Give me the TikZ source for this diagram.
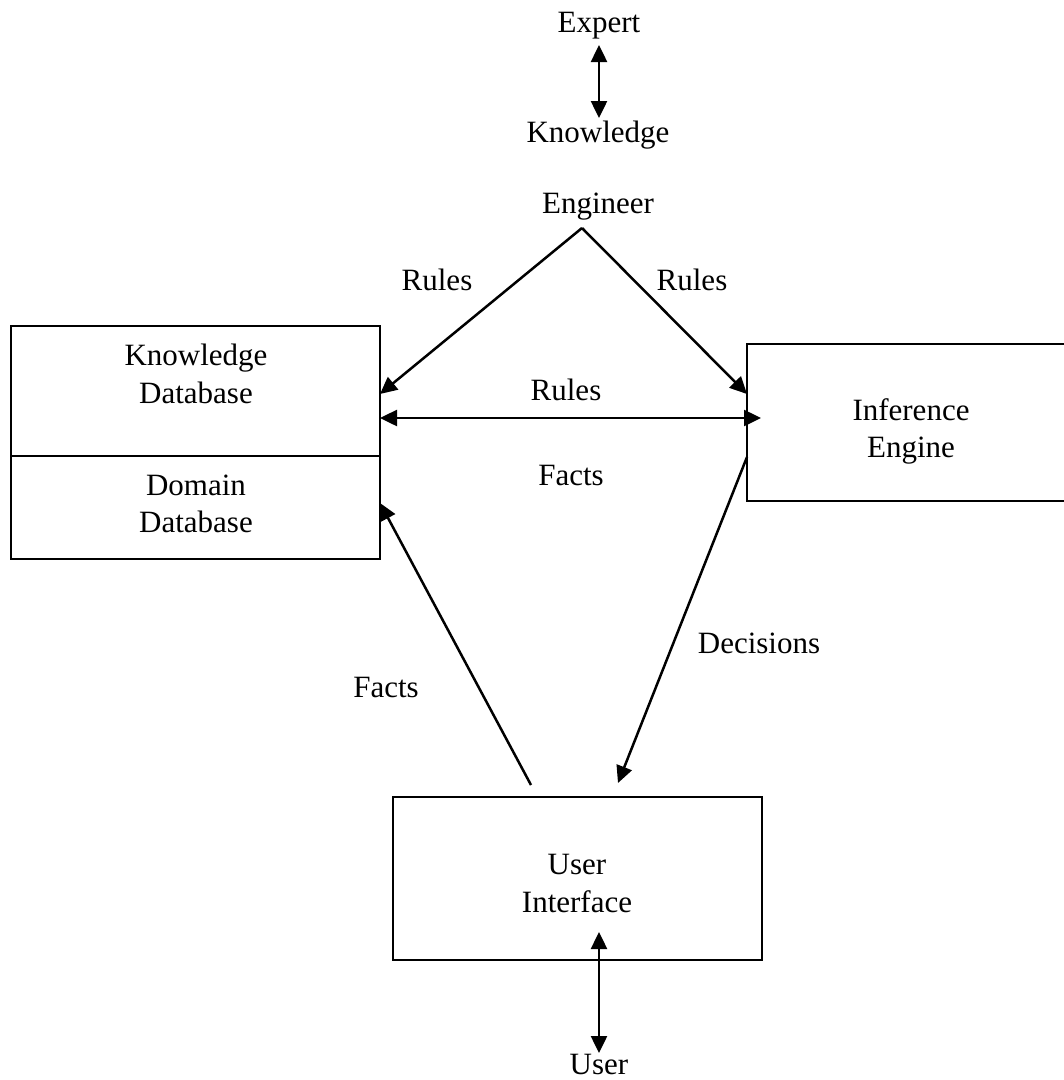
\documentclass[tikz,border=0pt]{standalone}
\usepackage{fontspec}
\setmainfont{Liberation Serif}
\usetikzlibrary{arrows.meta}
\begin{document}
\begin{tikzpicture}[x=1pt,y=-1pt,
  txt/.style={font=\fontsize{31}{38}\selectfont, anchor=base, inner sep=0pt},
  box/.style={draw, inner sep=0pt, line width=2.4pt},
  conn/.style={line width=2.5pt},
  onetip/.style={-{Triangle[length=17pt,width=16pt]}},
  twotip/.style={{Triangle[length=17pt,width=16pt]}-{Triangle[length=17pt,width=16pt]}}]
\useasboundingbox (0,0) rectangle (1064,1080);
\clip (0,0) rectangle (1064,1080);

% boxes
\node[box, minimum width=369pt, minimum height=130pt] (kbox) at (195.5,391) {};
\node[box, minimum width=369pt, minimum height=103pt] (dbox) at (195.5,507.5) {};
\node[box, minimum width=328pt, minimum height=157pt] (ibox) at (911,422.5) {};
\node[box, minimum width=369pt, minimum height=163pt] (ubox) at (577.5,878.5) {};

% texts
\node[txt] (expert) at (599,32) {Expert};
\node[txt] (knowl) at (598,142) {Knowledge};
\node[txt] (eng) at (598,213) {Engineer};
\node[txt] (rulesL) at (437,290) {Rules};
\node[txt] (rulesR) at (692,290) {Rules};
\node[txt] (rulesM) at (566,400) {Rules};
\node[txt] (factsM) at (571,485) {Facts};
\node[txt] (factsL) at (386,697) {Facts};
\node[txt] (decis) at (759,653) {Decisions};
\node[txt] (kbt1) at (196,365) {Knowledge};
\node[txt] (kbt2) at (196,403) {Database};
\node[txt] (ddt1) at (196,495) {Domain};
\node[txt] (ddt2) at (196,532) {Database};
\node[txt] (iet1) at (911,420) {Inference};
\node[txt] (iet2) at (911,457) {Engine};
\node[txt] (uit1) at (577,874) {User};
\node[txt] (uit2) at (577,912) {Interface};
\node[txt] (user) at (599,1074) {User};

% connector end points
\coordinate (ek1) at (599,45);
\coordinate (ek2) at (599,118);
\coordinate (apex) at (582,228);
\coordinate (kbin) at (380,394);
\coordinate (iein) at (747,394);
\coordinate (hl) at (380,418);
\coordinate (hr) at (761,418);
\coordinate (decs) at (747,457);
\coordinate (dece) at (618,783);
\coordinate (facs) at (531,785);
\coordinate (face) at (380,503);
\coordinate (uu1) at (599,932);
\coordinate (uu2) at (599,1053);

% connectors
\draw[conn, twotip] (ek1) -- (ek2);
\draw[conn, onetip] (apex) -- (kbin);
\draw[conn, onetip] (apex) -- (iein);
\draw[conn, twotip] (hl) -- (hr);
\draw[conn, onetip] (decs) -- (dece);
\draw[conn, onetip] (facs) -- (face);
\draw[conn, twotip] (uu1) -- (uu2);
\end{tikzpicture}
\end{document}
